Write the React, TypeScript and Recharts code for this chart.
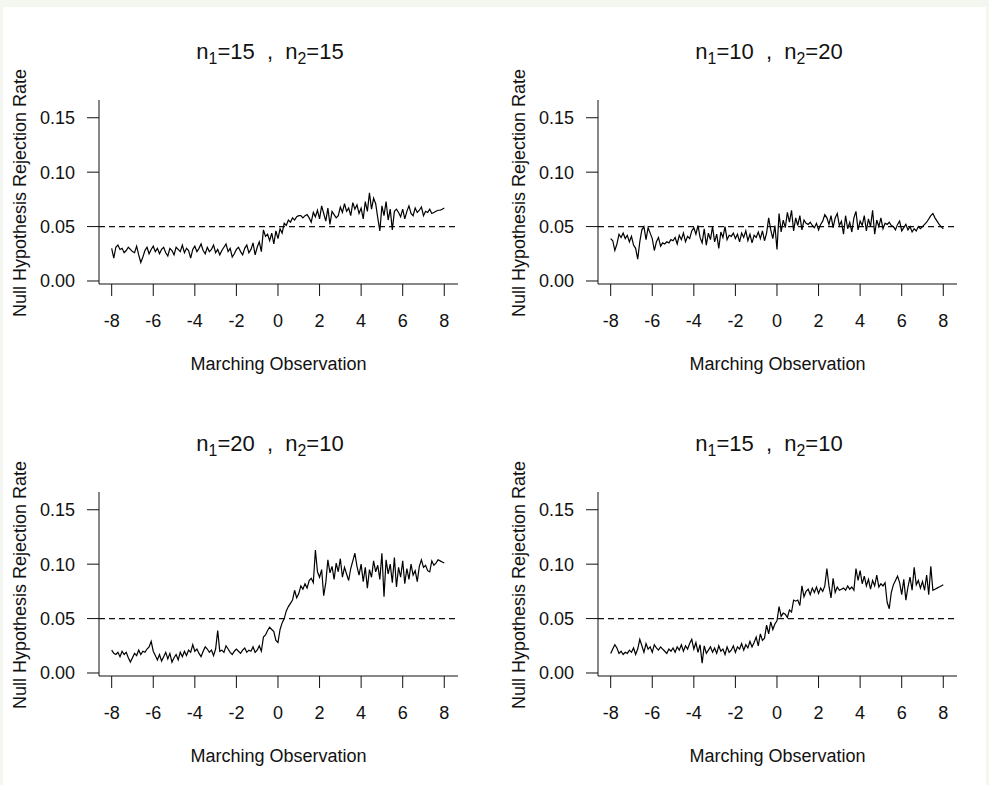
import { Line, LineChart, ReferenceLine, XAxis, YAxis } from "recharts";

// marching observation positions, -8 .. 8 by 0.1
const xs = [
  -8, -7.9, -7.8, -7.7, -7.6, -7.5, -7.4, -7.3, -7.2, -7.1,
  -7, -6.9, -6.8, -6.7, -6.6, -6.5, -6.4, -6.3, -6.2, -6.1,
  -6, -5.9, -5.8, -5.7, -5.6, -5.5, -5.4, -5.3, -5.2, -5.1,
  -5, -4.9, -4.8, -4.7, -4.6, -4.5, -4.4, -4.3, -4.2, -4.1,
  -4, -3.9, -3.8, -3.7, -3.6, -3.5, -3.4, -3.3, -3.2, -3.1,
  -3, -2.9, -2.8, -2.7, -2.6, -2.5, -2.4, -2.3, -2.2, -2.1,
  -2, -1.9, -1.8, -1.7, -1.6, -1.5, -1.4, -1.3, -1.2, -1.1,
  -1, -0.9, -0.8, -0.7, -0.6, -0.5, -0.4, -0.3, -0.2, -0.1,
  0, 0.1, 0.2, 0.3, 0.4, 0.5, 0.6, 0.7, 0.8, 0.9,
  1, 1.1, 1.2, 1.3, 1.4, 1.5, 1.6, 1.7, 1.8, 1.9,
  2, 2.1, 2.2, 2.3, 2.4, 2.5, 2.6, 2.7, 2.8, 2.9,
  3, 3.1, 3.2, 3.3, 3.4, 3.5, 3.6, 3.7, 3.8, 3.9,
  4, 4.1, 4.2, 4.3, 4.4, 4.5, 4.6, 4.7, 4.8, 4.9,
  5, 5.1, 5.2, 5.3, 5.4, 5.5, 5.6, 5.7, 5.8, 5.9,
  6, 6.1, 6.2, 6.3, 6.4, 6.5, 6.6, 6.7, 6.8, 6.9,
  7, 7.1, 7.2, 7.3, 7.4, 7.5, 7.6, 7.7, 7.8, 7.9,
  8,
];

const rate15x15 = [
  0.030, 0.021, 0.031, 0.033, 0.029, 0.030, 0.026, 0.028, 0.031, 0.029,
  0.027, 0.026, 0.032, 0.024, 0.017, 0.022, 0.028, 0.031, 0.025, 0.029,
  0.032, 0.027, 0.030, 0.025, 0.029, 0.031, 0.026, 0.023, 0.030, 0.028,
  0.024, 0.031, 0.029, 0.027, 0.033, 0.026, 0.030, 0.028, 0.021, 0.029,
  0.032, 0.027, 0.030, 0.034, 0.028, 0.025, 0.031, 0.027, 0.029, 0.033,
  0.026, 0.029, 0.024, 0.028, 0.031, 0.034, 0.027, 0.030, 0.022, 0.025,
  0.029, 0.031, 0.027, 0.024, 0.030, 0.033, 0.026, 0.029, 0.035, 0.024,
  0.031, 0.036, 0.027, 0.047, 0.041, 0.043, 0.037, 0.044, 0.034, 0.046,
  0.039, 0.048, 0.044, 0.053, 0.051, 0.056, 0.054, 0.058, 0.056, 0.059,
  0.060, 0.060, 0.058, 0.060, 0.061, 0.058, 0.054, 0.063, 0.059, 0.065,
  0.057, 0.069, 0.062, 0.055, 0.067, 0.052, 0.064, 0.061, 0.058, 0.060,
  0.068, 0.063, 0.071, 0.064, 0.067, 0.060, 0.072, 0.066, 0.070, 0.062,
  0.067, 0.057, 0.073, 0.064, 0.081, 0.066, 0.076, 0.071, 0.058, 0.046,
  0.069, 0.060, 0.073, 0.056, 0.066, 0.047, 0.064, 0.066, 0.063, 0.059,
  0.066, 0.057, 0.064, 0.069, 0.062, 0.060, 0.067, 0.063, 0.065, 0.068,
  0.060, 0.064, 0.063, 0.066, 0.062, 0.063, 0.064, 0.065, 0.065, 0.066,
  0.067,
];

const rate10x20 = [
  0.039, 0.037, 0.028, 0.034, 0.043, 0.040, 0.044, 0.039, 0.042, 0.036,
  0.041, 0.033, 0.030, 0.020, 0.036, 0.047, 0.050, 0.038, 0.049, 0.044,
  0.039, 0.028, 0.036, 0.040, 0.032, 0.035, 0.034, 0.036, 0.035, 0.038,
  0.037, 0.040, 0.034, 0.042, 0.038, 0.044, 0.036, 0.041, 0.039, 0.046,
  0.049, 0.043, 0.051, 0.040, 0.035, 0.048, 0.033, 0.044, 0.038, 0.050,
  0.036, 0.043, 0.030, 0.045, 0.040, 0.050, 0.038, 0.042, 0.041, 0.044,
  0.039, 0.043, 0.036, 0.044, 0.040, 0.046, 0.037, 0.043, 0.035, 0.042,
  0.040, 0.045, 0.039, 0.046, 0.037, 0.044, 0.058, 0.047, 0.039, 0.051,
  0.029, 0.062, 0.045, 0.056, 0.049, 0.063, 0.054, 0.065, 0.046, 0.058,
  0.051, 0.060, 0.047, 0.056, 0.053, 0.052, 0.054, 0.051, 0.049, 0.053,
  0.047, 0.052, 0.055, 0.061, 0.058, 0.052, 0.060, 0.049, 0.058, 0.062,
  0.051, 0.055, 0.043, 0.060, 0.048, 0.054, 0.045, 0.058, 0.064, 0.047,
  0.055, 0.051, 0.060, 0.046, 0.057, 0.050, 0.065, 0.043, 0.056, 0.050,
  0.058, 0.048, 0.053, 0.052, 0.054, 0.051, 0.050, 0.047, 0.052, 0.055,
  0.046, 0.049, 0.052, 0.047, 0.050, 0.045, 0.048, 0.046, 0.050, 0.048,
  0.050, 0.052, 0.054, 0.057, 0.060, 0.062, 0.058, 0.055, 0.052, 0.050,
  0.048,
];

const rate20x10 = [
  0.021, 0.018, 0.017, 0.019, 0.015, 0.020, 0.017, 0.019, 0.014, 0.010,
  0.014, 0.018, 0.016, 0.021, 0.017, 0.020, 0.019, 0.022, 0.024, 0.029,
  0.020, 0.016, 0.012, 0.017, 0.011, 0.015, 0.019, 0.013, 0.018, 0.010,
  0.014, 0.017, 0.012, 0.019, 0.015, 0.020, 0.016, 0.021, 0.019, 0.026,
  0.020, 0.022, 0.018, 0.015, 0.020, 0.024, 0.022, 0.019, 0.021, 0.016,
  0.022, 0.039, 0.020, 0.021, 0.019, 0.025, 0.022, 0.019, 0.017, 0.020,
  0.022, 0.020, 0.018, 0.021, 0.023, 0.019, 0.021, 0.020, 0.024, 0.019,
  0.021, 0.025, 0.020, 0.033, 0.035, 0.039, 0.042, 0.040, 0.038, 0.030,
  0.028, 0.040, 0.046, 0.050, 0.057, 0.061, 0.064, 0.067, 0.076, 0.069,
  0.073, 0.080, 0.077, 0.082, 0.078, 0.085, 0.087, 0.083, 0.113, 0.093,
  0.088, 0.095, 0.071, 0.083, 0.104, 0.092, 0.098, 0.086, 0.101, 0.093,
  0.105, 0.088, 0.097, 0.091, 0.085, 0.096, 0.103, 0.110, 0.098, 0.090,
  0.100, 0.084, 0.097, 0.078, 0.095, 0.088, 0.103, 0.093, 0.099, 0.086,
  0.110, 0.070, 0.104, 0.091, 0.100, 0.083, 0.106, 0.079, 0.097, 0.088,
  0.103, 0.082, 0.096, 0.086, 0.100, 0.090, 0.094, 0.084, 0.098, 0.104,
  0.097, 0.099, 0.094, 0.093, 0.103, 0.099, 0.101, 0.104, 0.103, 0.102,
  0.101,
];

const rate15x10 = [
  0.018, 0.022, 0.026, 0.023, 0.018, 0.020, 0.017, 0.019, 0.018, 0.021,
  0.019, 0.023, 0.017, 0.022, 0.031, 0.025, 0.019, 0.027, 0.022, 0.024,
  0.019, 0.026, 0.023, 0.021, 0.024, 0.022, 0.020, 0.018, 0.022, 0.020,
  0.023, 0.019, 0.024, 0.021, 0.026, 0.020, 0.025, 0.022, 0.027, 0.031,
  0.022, 0.028, 0.019, 0.026, 0.009, 0.025, 0.018, 0.021, 0.024, 0.019,
  0.023, 0.018, 0.025, 0.020, 0.022, 0.017, 0.024, 0.019, 0.021, 0.025,
  0.019, 0.024, 0.022, 0.027, 0.021, 0.026, 0.023, 0.029, 0.024, 0.028,
  0.033, 0.025, 0.036, 0.030, 0.032, 0.044, 0.036, 0.047, 0.040, 0.045,
  0.048, 0.061, 0.052, 0.055, 0.054, 0.051, 0.058, 0.056, 0.067, 0.066,
  0.067, 0.062, 0.080, 0.070, 0.075, 0.077, 0.072, 0.078, 0.074, 0.079,
  0.073, 0.078, 0.075, 0.080, 0.096, 0.080, 0.069, 0.087, 0.074, 0.079,
  0.076, 0.077, 0.078, 0.076, 0.080, 0.077, 0.079, 0.076, 0.096, 0.085,
  0.094, 0.082, 0.089, 0.080, 0.086, 0.077, 0.085, 0.080, 0.090, 0.079,
  0.082, 0.080, 0.083, 0.065, 0.059, 0.074, 0.081, 0.085, 0.089, 0.083,
  0.072, 0.086, 0.067, 0.079, 0.088, 0.076, 0.097, 0.081, 0.085, 0.078,
  0.084, 0.076, 0.090, 0.072, 0.098, 0.076, 0.077, 0.078, 0.079, 0.080,
  0.081,
];

const xTicks = [-8, -6, -4, -2, 0, 2, 4, 6, 8];
const yTicks = [0, 0.05, 0.1, 0.15];
const nominalLevel = 0.05;

const sampleSizes = [
  [15, 15],
  [10, 20],
  [20, 10],
  [15, 10],
];
const series = [rate15x15, rate10x20, rate20x10, rate15x10];

const font = '"Liberation Sans", Arial, sans-serif';
const ink = "#111";
const axisFont = 18;

function Panel({ n1, n2, values, left, top }: { n1: number; n2: number; values: number[]; left: number; top: number }) {
  const data = xs.map((x, i) => ({ x, rate: values[i] }));
  const sub = { fontSize: "0.72em", position: "relative" as const, top: "0.3em" };

  return (
    <div style={{ position: "absolute", left, top, width: 490, height: 392 }}>
      <div
        style={{
          position: "absolute",
          left: 70,
          top: 41,
          width: 400,
          textAlign: "center",
          fontSize: 22,
          lineHeight: "22px",
          color: ink,
          whiteSpace: "pre",
        }}
      >
        n<span style={sub}>1</span>{`=${n1}  ,  n`}<span style={sub}>2</span>{`=${n2}`}
      </div>
      <LineChart width={490} height={392} data={data} margin={{ top: 100, right: 32, bottom: 8, left: 0 }}>
        <XAxis
          dataKey="x"
          type="number"
          domain={[-8.61, 8.66]}
          ticks={xTicks}
          interval={0}
          allowDataOverflow
          height={100}
          tickSize={12}
          tickMargin={18}
          axisLine={{ stroke: ink }}
          tickLine={{ stroke: ink }}
          tick={{ fill: ink, fontSize: axisFont, fontFamily: font }}
          label={{
            value: "Marching Observation",
            position: "insideBottom",
            offset: 14,
            fill: ink,
            fontSize: axisFont,
            fontFamily: font,
          }}
        />
        <YAxis
          type="number"
          domain={[-0.00276, 0.1663]}
          ticks={yTicks}
          interval={0}
          allowDataOverflow
          width={99}
          tickSize={12}
          tickMargin={12}
          tickFormatter={(v: number) => v.toFixed(2)}
          axisLine={{ stroke: ink }}
          tickLine={{ stroke: ink }}
          tick={{ fill: ink, fontSize: axisFont, fontFamily: font }}
          label={{
            content: (props: any) => {
              const vb = props.viewBox || { y: 100, height: 184 };
              const cy = vb.y + vb.height / 2 + 1;
              return (
                <text
                  x={26}
                  y={cy}
                  transform={`rotate(-90 26 ${cy})`}
                  textAnchor="middle"
                  fill={ink}
                  fontSize={axisFont}
                  fontFamily={font}
                >
                  Null Hypothesis Rejection Rate
                </text>
              );
            },
          }}
        />
        <ReferenceLine y={nominalLevel} stroke={ink} strokeWidth={1.2} strokeDasharray="6 4" />
        <Line
          type="linear"
          dataKey="rate"
          stroke="#000"
          strokeWidth={1.2}
          dot={false}
          activeDot={false}
          isAnimationActive={false}
        />
      </LineChart>
    </div>
  );
}

export default function App() {
  return (
    <div
      style={{
        position: "absolute",
        left: 0,
        top: 0,
        width: 989,
        height: 785,
        background: "#f4f6f0",
        fontFamily: font,
        overflow: "hidden",
      }}
    >
      <div style={{ position: "absolute", left: 3, top: 7, right: 3, bottom: 0, background: "#fff" }} />
      {series.map((values, i) => (
        <Panel
          key={i}
          n1={sampleSizes[i][0]}
          n2={sampleSizes[i][1]}
          values={values}
          left={(i % 2) * 499}
          top={Math.floor(i / 2) * 392}
        />
      ))}
    </div>
  );
}
